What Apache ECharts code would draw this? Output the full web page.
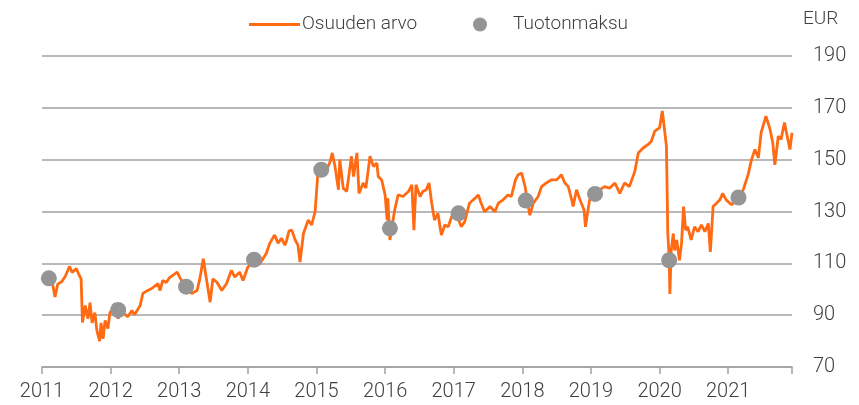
<!DOCTYPE html>
<html>
<head>
<meta charset="utf-8">
<script src="https://cdn.jsdelivr.net/npm/echarts@6/dist/echarts.min.js"></script>
<style>
html,body{margin:0;padding:0;background:#fff;}
#chart{width:859px;height:405px;}
</style>
</head>
<body>
<div id="chart"></div>
<script>
// Fund value (EUR), dates as decimal years
var navDates = [
2011.00,2011.04,2011.10,2011.15,2011.19,2011.23,2011.29,2011.34,2011.40,2011.44,2011.50,2011.54,2011.57,2011.59,2011.63,2011.67,2011.70,2011.73,2011.77,2011.80,2011.84,2011.86,2011.89,2011.92,2011.96,2011.99,
2012.02,2012.06,2012.11,2012.14,2012.18,2012.25,2012.31,2012.35,2012.43,2012.47,2012.54,2012.60,2012.69,2012.72,2012.76,2012.81,2012.86,2012.97,
2013.01,2013.05,2013.13,2013.18,2013.26,2013.30,2013.35,2013.40,2013.45,2013.49,2013.55,2013.62,2013.69,2013.76,2013.81,2013.88,2013.93,
2014.00,2014.06,2014.12,2014.18,2014.27,2014.32,2014.39,2014.44,2014.49,2014.54,2014.56,2014.60,2014.64,2014.69,2014.73,2014.76,2014.81,2014.88,2014.93,2014.98,
2015.02,2015.07,2015.12,2015.20,2015.23,2015.27,2015.32,2015.34,2015.39,2015.44,2015.49,2015.51,2015.54,2015.59,2015.62,2015.68,2015.72,2015.78,2015.83,2015.88,2015.90,2015.95,
2016.00,2016.03,2016.04,2016.07,2016.10,2016.14,2016.19,2016.26,2016.34,2016.39,2016.42,2016.45,2016.51,2016.55,2016.60,2016.64,2016.68,2016.72,2016.77,2016.82,2016.87,2016.92,2016.97,
2017.03,2017.11,2017.16,2017.23,2017.31,2017.36,2017.40,2017.45,2017.53,2017.60,2017.65,2017.72,2017.79,2017.84,2017.90,2017.94,2017.99,
2018.04,2018.08,2018.11,2018.16,2018.23,2018.28,2018.35,2018.42,2018.50,2018.57,2018.62,2018.67,2018.72,2018.74,2018.79,2018.84,2018.90,2018.92,2018.98,
2019.03,2019.13,2019.20,2019.27,2019.35,2019.42,2019.49,2019.56,2019.64,2019.69,2019.76,2019.83,2019.88,2019.93,
2020.00,2020.04,2020.06,2020.10,2020.12,2020.14,2020.15,2020.17,2020.20,2020.22,2020.25,2020.29,2020.32,2020.35,2020.38,2020.41,2020.46,2020.51,2020.56,2020.61,2020.66,2020.71,2020.74,2020.78,2020.83,2020.88,2020.92,2020.97,
2021.05,2021.11,2021.22,2021.29,2021.34,2021.39,2021.44,2021.48,2021.55,2021.61,2021.65,2021.68,2021.73,2021.77,2021.82,2021.87,2021.90,2021.93
];
var navValues = [
104.2,103,104.5,102.5,97,102,103,105,108.8,106.5,108,105.5,104,87.2,93.7,88.6,94.8,87,91,84,80,87,80.9,88,84.8,91,
91.8,94.5,88.6,92,91,89.4,91.8,90.2,93.7,98.4,99.5,100.3,102.2,99.5,103.4,102.6,104.5,106.6,
104.5,102.7,100.5,98.4,99.5,104,111.8,103.4,95,104,102.7,99.5,102.2,107.3,104.7,106.6,103.4,
108.6,110,109,110,113.9,117.8,120.9,117.8,119.7,117,118.3,122.5,122.8,119,117,110.5,121.5,126.7,124.8,129.9,
144.8,146.1,144.2,149.3,152.6,147.4,138.4,150,139,137.7,147.4,151.3,143.5,152.6,137,141,139,151.3,147.4,148.7,143.5,142.2,
136.4,126.7,135.1,119,124,130.6,136.4,135.8,137.7,140.3,122.8,140.3,135.8,137.7,138.4,141,133.2,126.7,129.3,120.9,124.8,124.1,128,
129.5,124.1,126,133.2,135.1,136.4,133.2,129.9,131.9,129.9,133.2,134.5,136.4,135.8,142.2,144.2,144.8,
139.6,133,128.6,133.2,135.8,139.6,141,142.2,142.2,144.2,141,139.6,134.5,131.9,138.4,134.5,130.6,124.1,134.5,
136,138.4,139.6,139,141,137,141,139.6,145.5,152.6,154.5,155.8,157.1,161,
162.3,168.8,169.4,155.2,121.5,112.5,98.2,115,121.5,115,119,111.2,117.7,131.9,122.8,124.1,119,124.1,122.2,124.8,122.2,125.4,114.4,131.9,133.2,134.5,137,134.5,
132.6,134.5,138.4,144.2,150,153.9,150.7,160.4,166.8,161.7,156.5,148,159.1,157.8,164.3,157.8,153.9,160.4
];
// Distribution payments
var divDates = [2011.10,2012.11,2013.10,2014.09,2015.07,2016.07,2017.07,2018.05,2019.06,2020.14,2021.15];
var divValues = [104.2,92,101,111.4,146.1,123.5,129.3,134.2,136.8,111.2,135.4];
// Axis ticks
var yearTicks = [2011,2012,2013,2014,2015,2016,2017,2018,2019,2020,2021];
var xMin = 2011, xMax = 2021.93;
var yMin = 70, yMax = 190, yStep = 20;
var seriesNames = ['Osuuden arvo','Tuotonmaksu'];
var unitLabel = 'EUR';

var navData = navDates.map(function(d,i){return [d, navValues[i]];});
var divData = divDates.map(function(d,i){return [d, divValues[i]];});

var FONT = 'Roboto, "Open Sans", sans-serif';
var TXT = '#404040';
var chart = echarts.init(document.getElementById('chart'), null, {renderer:'canvas'});
chart.setOption({
  animation:false,
  backgroundColor:'#ffffff',
  textStyle:{fontFamily:FONT},
  grid:{left:42, right:67, top:56, bottom:38},
  legend:[
    {data:[seriesNames[0]], left:244, top:10, icon:'rect', itemWidth:51, itemHeight:3,
     textStyle:{fontSize:19, color:TXT, fontFamily:FONT, fontWeight:300, padding:[0,0,0,-3]}},
    {data:[seriesNames[1]], left:468, top:10, icon:'circle', itemWidth:14, itemHeight:14,
     textStyle:{fontSize:19, color:TXT, fontFamily:FONT, fontWeight:300, padding:[0,0,0,21]}}
  ],
  graphic:[{type:'text', left:803, top:10, style:{text:unitLabel, fontSize:19, fill:TXT, fontFamily:FONT, fontWeight:300}}],
  xAxis:{
    type:'value', min:xMin, max:xMax, interval:1,
    axisLine:{show:true, lineStyle:{color:'#a0a0a0', width:1.5}},
    axisTick:{show:true, length:7, lineStyle:{color:'#a0a0a0', width:1.5}, customValues:yearTicks.concat([xMax])},
    axisLabel:{fontSize:20, color:TXT, fontWeight:300, margin:15, customValues:yearTicks, formatter:function(v){return String(Math.round(v));}},
    splitLine:{show:false}
  },
  yAxis:{
    type:'value', position:'right', min:yMin, max:yMax, interval:yStep,
    axisLine:{show:false}, axisTick:{show:false},
    axisLabel:{fontSize:20, color:TXT, fontWeight:300, margin:21},
    splitLine:{show:true, lineStyle:{color:'#a0a0a0', width:1.5}}
  },
  series:[
    {name:seriesNames[0], type:'line', data:navData, symbol:'none', smooth:false,
     lineStyle:{color:'#ff6a13', width:2.8}, itemStyle:{color:'#ff6a13'}, z:2},
    {name:seriesNames[1], type:'scatter', data:divData, symbolSize:16,
     itemStyle:{color:'#959595', opacity:1}, z:3}
  ]
});
</script>
</body>
</html>
